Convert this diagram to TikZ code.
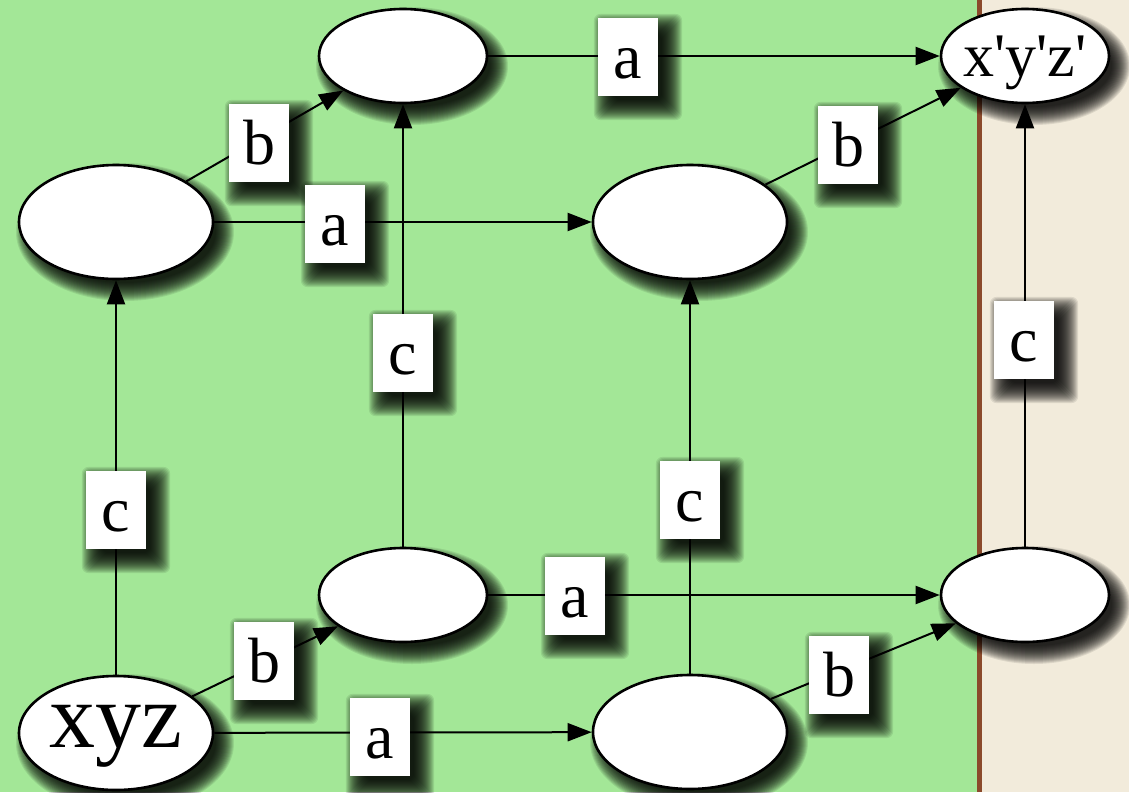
\documentclass[tikz,border=0pt]{standalone}
\usepackage{fontspec}
\setmainfont{Liberation Serif}
\usetikzlibrary{arrows.meta,shapes.geometric,backgrounds}

\definecolor{felt}{RGB}{163,231,151}
\definecolor{paper}{RGB}{242,235,219}
\definecolor{rule}{RGB}{139,74,43}

\begin{document}
\begin{tikzpicture}[x=1pt,y=-1pt,
  state/.style={ellipse, draw=black, line width=2.6pt, fill=white, inner sep=0pt},
  wide/.style={state, minimum width=194pt, minimum height=114pt},
  narrow/.style={state, minimum width=168pt, minimum height=94pt},
  edge/.style={draw=black, line width=2pt, -{Triangle[length=24pt,width=18pt]}},
  tag/.style={rectangle, fill=white, inner xsep=0pt, inner ysep=9pt,
    minimum width=60pt, text height=51pt, text depth=9pt,
    font=\fontsize{64}{70}\selectfont},
  haze/.style={fill=black, fill opacity=0.09}
]
\useasboundingbox (0,0) rectangle (1129,792);

% backdrop: green panel, divider, paper strip
\begin{pgfonlayer}{background}
\fill[felt] (0,0) rectangle (977,792);
\fill[paper] (982,0) rectangle (1129,792);
\fill[rule] (977,0) rectangle (982,792);
\end{pgfonlayer}

% states
\node[wide, text height=42pt, text depth=14pt, font=\fontsize{92}{100}\selectfont] (xyz) at (116,733) {xyz};
\node[wide] (lm) at (116,222) {};
\node[narrow] (tm) at (403,56) {};
\node[narrow] (mm) at (403,595) {};
\node[wide] (bm) at (690,732) {};
\node[wide] (cr) at (690,222) {};
\node[narrow] (rb) at (1025,595) {};
\node[narrow, inner xsep=-15pt, text height=46pt, text depth=4pt, font=\fontsize{62}{70}\selectfont] (top) at (1025,56)
  {x\textquotesingle y\textquotesingle z\textquotesingle};

% transitions
\draw[edge] (xyz) -- (lm);
\draw[edge] (xyz) -- (mm);
\draw[edge] (xyz) -- (bm);
\draw[edge] (lm) -- (tm);
\draw[edge] (lm) -- (cr);
\draw[edge] (mm) -- (tm);
\draw[edge] (mm) -- (rb);
\draw[edge] (bm) -- (cr);
\draw[edge] (bm) -- (rb);
\draw[edge] (tm) -- (top);
\draw[edge] (cr) -- (top);
\draw[edge] (rb) -- (top);

% transition labels
\node[tag] (la1) at (628,57) {a};
\node[tag] (lb1) at (259,143) {b};
\node[tag] (la2) at (335,224) {a};
\node[tag] (lb2) at (848,145) {b};
\node[tag] (lc1) at (403,353) {c};
\node[tag] (lc2) at (1024,340) {c};
\node[tag] (lc3) at (116,510) {c};
\node[tag] (lc4) at (690,500) {c};
\node[tag] (la3) at (575,596) {a};
\node[tag] (lb3) at (264,661) {b};
\node[tag] (lb4) at (839,675) {b};
\node[tag] (la4) at (380,737) {a};

% soft drop shadows, built from stacked translucent copies
\begin{pgfonlayer}{background}
\foreach \n/\rx/\ry in {xyz/97/57, lm/97/57, bm/97/57, cr/97/57,
                        tm/84/47, mm/84/47, rb/84/47, top/84/47} {
  \foreach \s in {-6,-5,...,12}
    \fill[haze] ([shift={(9,10)}]\n.center) ellipse [x radius=\rx+\s, y radius=\ry+\s];
}
\foreach \n in {la1,lb1,la2,lb2,lc1,lc2,lc3,lc4,la3,lb3,lb4,la4} {
  \foreach \s in {-6,-5,...,14}
    \fill[haze, rounded corners=7pt]
      ([shift={(10-\s,10-\s)}]\n.north west) rectangle ([shift={(10+\s,10+\s)}]\n.south east);
}
\end{pgfonlayer}
\end{tikzpicture}
\end{document}
